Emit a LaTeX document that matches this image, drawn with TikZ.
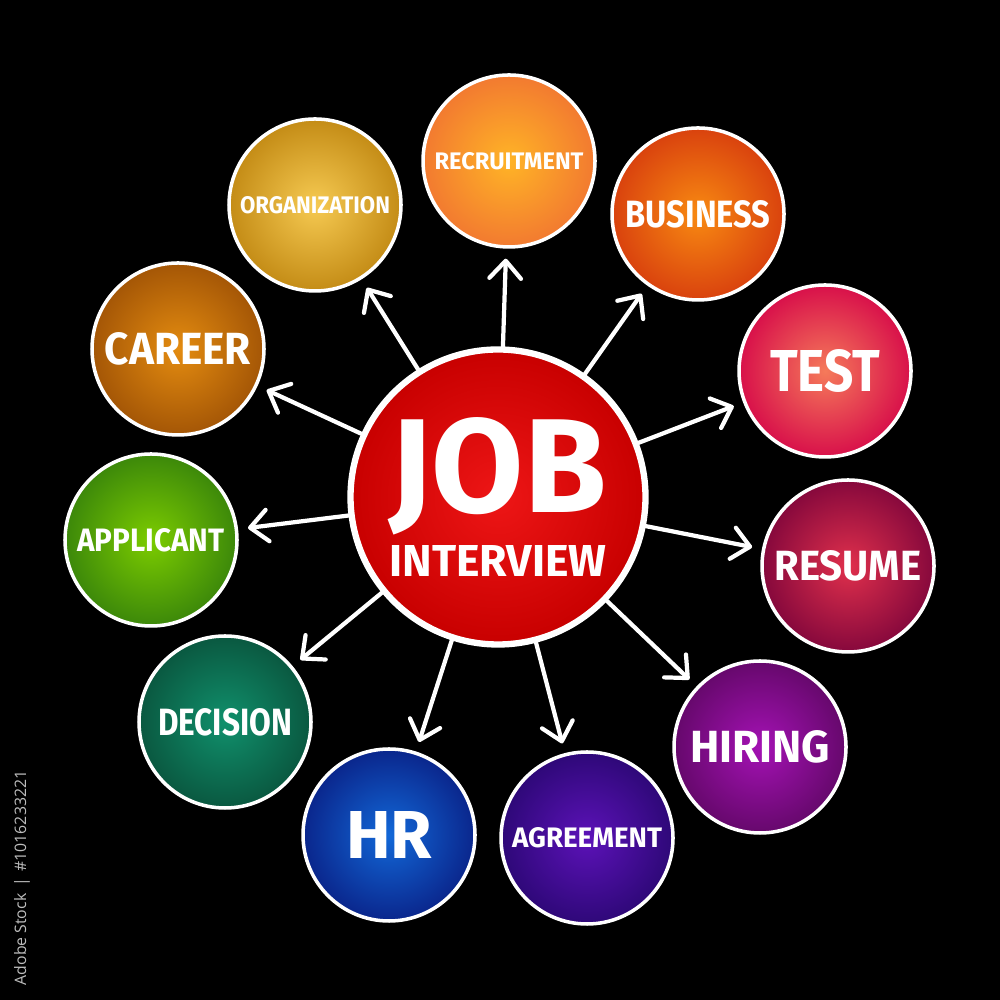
\documentclass[tikz,border=0pt]{standalone}
\usepackage{fontspec}
\setmainfont{Fira Sans}
\newfontfamily\stockfont{Open Sans}
\usepackage{xcolor}
\usepackage{graphicx}
\usepackage{tikz}
\usetikzlibrary{arrows.meta}
\definecolor{bg}{HTML}{000000}
\definecolor{text}{HTML}{FFFFFF}
\definecolor{muted}{HTML}{BDBDBD}
\definecolor{jobin}{HTML}{EE1616}
\definecolor{jobout}{HTML}{C80000}
\definecolor{recin}{HTML}{FFB426}
\definecolor{recout}{HTML}{F27A30}
\definecolor{busin}{HTML}{F88A12}
\definecolor{busout}{HTML}{D9420E}
\definecolor{testin}{HTML}{F57A5A}
\definecolor{testout}{HTML}{D8104A}
\definecolor{resin}{HTML}{E0304C}
\definecolor{resout}{HTML}{86083C}
\definecolor{hirin}{HTML}{A412B4}
\definecolor{hirout}{HTML}{66086C}
\definecolor{agrin}{HTML}{5C12B8}
\definecolor{agrout}{HTML}{2E0878}
\definecolor{hrin}{HTML}{1268D8}
\definecolor{hrout}{HTML}{0A268C}
\definecolor{decin}{HTML}{10906C}
\definecolor{decout}{HTML}{0A5840}
\definecolor{appin}{HTML}{7CCC00}
\definecolor{appout}{HTML}{3C880A}
\definecolor{carin}{HTML}{E48C10}
\definecolor{carout}{HTML}{A45606}
\definecolor{orgin}{HTML}{F6CA52}
\definecolor{orgout}{HTML}{C48C16}
\tikzset{
  bubble/.style={circle, draw=white, line width=1pt, minimum size=1.72cm, inner sep=0pt, text=text, font=\bfseries},
  hub/.style={bubble, line width=1.8pt, minimum size=2.95cm, align=center, font=\bfseries\fontsize{10}{12}\selectfont},
  arr/.style={draw=white, line width=1.2pt, line cap=round, -{Straight Barb[length=5pt,width=9pt,round]}, shorten >=0.1cm},
  stock/.style={text=muted, font=\stockfont\fontsize{4.5}{5}\selectfont, rotate=90, inner sep=0pt},
}

\begin{document}
\begin{tikzpicture}
  \fill[bg] (0,0) rectangle (10,10);
  \useasboundingbox (0,0) rectangle (10,10);

  \node[hub, inner color=jobin, outer color=jobout] (job) at (4.98,5.03)
    {\resizebox{2.17cm}{0.95cm}{JOB}\\[0.06cm]\resizebox{2.17cm}{0.31cm}{INTERVIEW}};

  \node[bubble, inner color=recin, outer color=recout] (rec) at (5.09,8.39) {\resizebox{1.49cm}{0.17cm}{RECRUITMENT}};
  \node[bubble, inner color=busin, outer color=busout] (bus) at (6.98,7.86) {\resizebox{1.45cm}{0.27cm}{BUSINESS}};
  \node[bubble, inner color=testin, outer color=testout] (test) at (8.25,6.29) {\resizebox{1.10cm}{0.42cm}{TEST}};
  \node[bubble, inner color=resin, outer color=resout] (res) at (8.48,4.34) {\resizebox{1.47cm}{0.30cm}{RESUME}};
  \node[bubble, inner color=hirin, outer color=hirout] (hir) at (7.60,2.53) {\resizebox{1.40cm}{0.32cm}{HIRING}};
  \node[bubble, inner color=agrin, outer color=agrout] (agr) at (5.87,1.62) {\resizebox{1.50cm}{0.20cm}{AGREEMENT}};
  \node[bubble, inner color=hrin, outer color=hrout] (hr) at (3.89,1.65) {\resizebox{0.86cm}{0.47cm}{HR}};
  \node[bubble, inner color=decin, outer color=decout] (dec) at (2.25,2.78) {\resizebox{1.34cm}{0.27cm}{DECISION}};
  \node[bubble, inner color=appin, outer color=appout] (app) at (1.51,4.60) {\resizebox{1.47cm}{0.23cm}{APPLICANT}};
  \node[bubble, inner color=carin, outer color=carout] (car) at (1.78,6.51) {\resizebox{1.46cm}{0.32cm}{CAREER}};
  \node[bubble, inner color=orgin, outer color=orgout] (org) at (3.15,7.95) {\resizebox{1.50cm}{0.17cm}{ORGANIZATION}};

  % spokes
  \foreach \n in {rec,bus,test,res,hir,agr,hr,dec,app,car,org}
    \draw[arr] (job) -- (\n);

  \node[stock] (id) at (0.22,1.22) {Adobe Stock \,|\, \#1016233221};
\end{tikzpicture}
\end{document}
